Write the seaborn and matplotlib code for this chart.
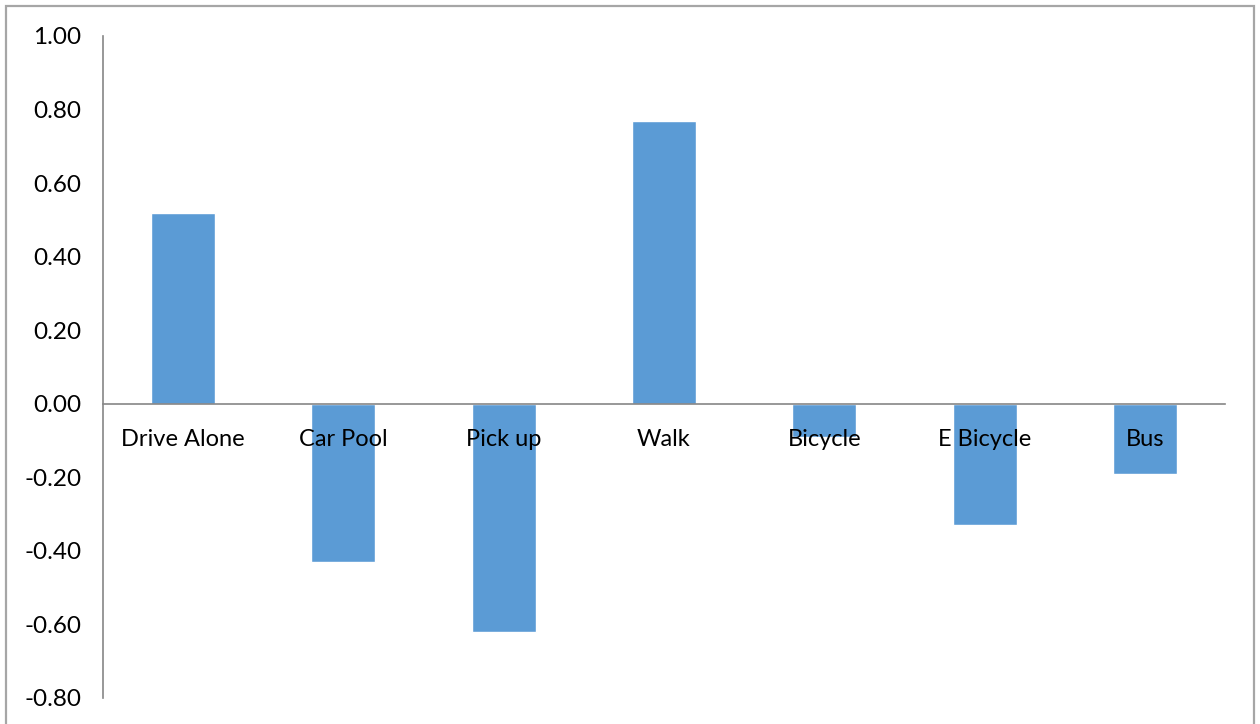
import matplotlib
matplotlib.use("Agg")
import matplotlib.pyplot as plt
from matplotlib.patches import Rectangle
from matplotlib.ticker import FixedLocator
import numpy as np
import pandas as pd
import seaborn as sns

# Mode-choice coefficients
modes = ["Drive Alone", "Car Pool", "Pick up", "Walk", "Bicycle", "E Bicycle", "Bus"]
values = [0.52, -0.43, -0.62, 0.77, -0.09, -0.33, -0.19]
y_ticks = [-0.80, -0.60, -0.40, -0.20, 0.00, 0.20, 0.40, 0.60, 0.80, 1.00]

sns.set_style("white")
plt.rcParams["font.family"] = ["Lato", "DejaVu Sans"]

W, H = 1260, 724
fig = plt.figure(figsize=(W / 100, H / 100), dpi=100)
ax = fig.add_axes([103 / W, 1 - 698 / H, (1225 - 103) / W, (698 - 36) / H])

df = pd.DataFrame({"mode": modes, "value": values})
sns.barplot(data=df, x="mode", y="value", order=modes, color="#5B9BD5",
            saturation=1, width=0.4, ax=ax, zorder=2)

axis_gray = "#868686"
ax.set_xlim(-0.5, len(modes) - 0.5)
ax.set_ylim(-0.8, 1.0)
ax.set_yticks(y_ticks)
ax.set_yticklabels([f"{v:.2f}" for v in y_ticks])
ax.set_xlabel("")
ax.set_ylabel("")

for side in ("top", "right"):
    ax.spines[side].set_visible(False)
ax.spines["bottom"].set_position(("data", 0))
ax.spines["bottom"].set_color(axis_gray)
ax.spines["left"].set_color(axis_gray)
ax.spines["bottom"].set_zorder(3)
ax.spines["bottom"].set_linewidth(1.2)
ax.spines["left"].set_linewidth(1.2)

# Category labels sit under the zero line, drawn over the bars;
# boundary ticks are minor ticks
ax.xaxis.set_zorder(5)
ax.xaxis.set_minor_locator(FixedLocator(np.arange(-0.5, len(modes), 1.0)))
ax.tick_params(axis="x", which="major", length=0, pad=18, labelsize=17, colors="black")
ax.tick_params(axis="x", which="minor", length=6, width=1, color=axis_gray, direction="out")
ax.tick_params(axis="y", which="major", length=5.5, width=1, color=axis_gray,
               direction="out", pad=10, labelsize=17.5, labelcolor="black")
ax.grid(False)

# Outer chart border
fig.patches.append(Rectangle((6 / W, -0.05), (1254 - 6) / W, 1.05 - 6 / H,
                             transform=fig.transFigure, fill=False,
                             edgecolor="#A6A6A6", linewidth=1.6, zorder=0))

fig.savefig("out.png", dpi=100)
